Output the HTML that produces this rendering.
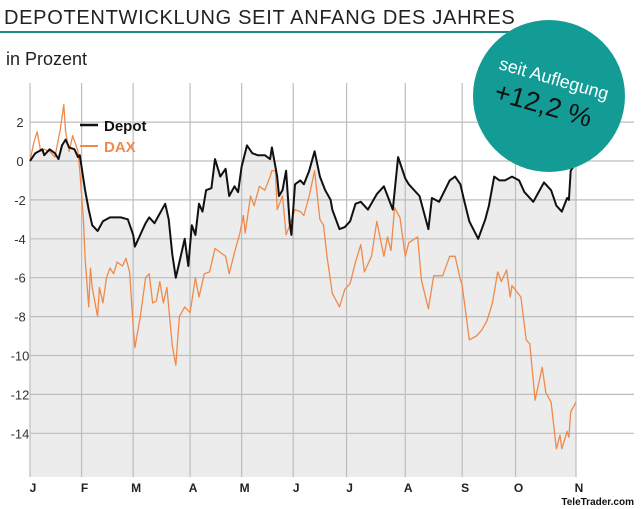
<!DOCTYPE html>
<html><head><meta charset="utf-8">
<style>
body{margin:0;background:#fff;width:644px;height:509px;overflow:hidden;font-family:"Liberation Sans",sans-serif;}
svg{display:block}
</style></head>
<body>
<svg id="chart" width="644" height="509">
  <text x="4" y="24" font-size="20" fill="#222" letter-spacing="0.7">DEPOTENTWICKLUNG SEIT ANFANG DES JAHRES</text>
  <rect x="0" y="31" width="528" height="2" fill="#1a8a85"/>
  <text x="6" y="65" font-size="18" fill="#222">in Prozent</text>
  <g id="plot"></g>
  <g>
    <line x1="80" y1="125" x2="98" y2="125" stroke="#111" stroke-width="2.5"/>
    <text x="104" y="131" font-size="15" font-weight="bold" fill="#111">Depot</text>
    <line x1="80" y1="146" x2="98" y2="146" stroke="#f08a4b" stroke-width="2"/>
    <text x="104" y="152" font-size="15" font-weight="bold" fill="#f08a4b">DAX</text>
  </g>
  <g>
    <circle cx="549" cy="96" r="76" fill="#139b95"/>
    <g transform="rotate(16 549 96)">
      <text x="549" y="84" font-size="18" fill="#fff" text-anchor="middle">seit Auflegung</text>
      <text x="546" y="115" font-size="27" fill="#111" text-anchor="middle">+12,2 %</text>
    </g>
  </g>
  <text x="634" y="505" font-size="10" font-weight="bold" fill="#111" text-anchor="end">TeleTrader.com</text>
</svg>
<script>
const monthLabels=["J","F","M","A","M","J","J","A","S","O","N"];
const monthStartDays=[0,29,58,90,119,148,178,211,243,273,307];
const yTicks=[2,0,-2,-4,-6,-8,-10,-12,-14];
const depotDays=[0,3,7,8,11,14,16,18,20,22,25,27,28,31,33,35,38,41,45,51,55,58,59,63,65,67,70,73,76,78,80,82,84,87,89,91,93,95,97,99,102,104,107,110,112,115,117,119,122,125,128,132,135,136,139,140,142,144,146,147,149,152,154,157,160,163,166,169,170,174,177,180,183,186,190,195,199,204,207,211,213,219,224,226,230,236,239,242,244,247,252,256,258,261,264,267,271,275,278,283,289,293,296,299,302,303,304,307];
const depotValues=[0,.4,.6,.3,.6,.4,.1,.8,1.1,.7,.6,.2,.3,-1.5,-2.5,-3.3,-3.6,-3.1,-2.9,-2.9,-3,-3.8,-4.4,-3.6,-3.2,-2.9,-3.2,-2.7,-2.2,-3,-4.8,-6,-5.2,-4,-5.4,-3.3,-3.8,-2.2,-2.6,-1.5,-1.4,.1,-.8,-.4,-1.8,-1.3,-1.6,-.3,.8,.4,.3,.3,.1,.7,-.8,-1.8,-1.5,-.5,-3.2,-3.8,-1.2,-1.0,-1.2,-.5,.5,-.8,-1.5,-2,-2.5,-3.5,-3.4,-3.1,-2.2,-2.1,-2.5,-1.7,-1.3,-2.5,.2,-.9,-1.2,-1.8,-3.5,-1.9,-2.1,-1,-.8,-1.2,-2,-3.1,-4,-3,-2.3,-.8,-1,-1,-.8,-1,-1.6,-2.1,-1.1,-1.5,-2.3,-2.6,-1.9,-2,-.5,-.1];
const daxDays=[0,2,4,6,8,11,14,17,19,20,22,24,27,28,30,31,33,34,35,38,39,41,43,45,47,49,52,54,56,58,59,62,65,67,69,71,73,75,77,80,82,84,87,90,93,95,98,101,104,107,110,112,115,118,120,121,124,126,129,132,135,136,138,139,142,144,146,149,152,154,157,160,163,165,167,170,174,177,180,183,186,188,192,195,199,201,203,205,208,211,213,218,220,224,227,232,236,239,242,243,247,251,254,257,260,263,265,268,270,271,276,279,281,284,288,290,293,296,298,299,302,303,304,307];
const daxValues=[0,.9,1.5,.5,.6,.5,.2,1.6,2.9,1.5,.5,1.3,.5,-.5,-3,-5,-7.5,-5.5,-6.5,-8,-6.5,-7.3,-6,-5.5,-5.8,-5.2,-5.4,-5,-5.7,-8.5,-9.6,-8,-6,-5.8,-7.3,-7.2,-6.2,-7.3,-6.5,-9.5,-10.5,-8,-7.5,-7.8,-6,-7,-5.8,-5.7,-4.5,-4.7,-4.9,-5.8,-4.7,-3.7,-2.8,-3.7,-1.8,-2.3,-1.3,-1.5,-.8,-.5,-.5,-2.5,-1.8,-3.8,-3.3,-2.5,-2.6,-2.8,-1.8,-.5,-3,-3.3,-4.9,-6.8,-7.5,-6.6,-6.3,-5.2,-4.3,-5.7,-4.9,-3.1,-4.9,-3.9,-4.6,-2.4,-2.9,-4.9,-4.2,-3.9,-6.1,-7.6,-5.9,-5.9,-4.9,-4.9,-6.1,-6.4,-9.2,-9,-8.7,-8.2,-7.3,-5.7,-6.2,-5.6,-7,-6.4,-7,-9.2,-9.4,-12.3,-10.6,-11.9,-12.4,-14.8,-14.1,-14.8,-13.9,-14.2,-12.9,-12.4];

const NS="http://www.w3.org/2000/svg";
const g=document.getElementById('plot');
const X0=30,X1=576,D1=307,TOP=83,BOT=477,GRIDR=634;
function xs(d){return X0+(d/D1)*(X1-X0);}
function ys(v){return 161-v*19.45;}
function mk(tag,attrs){const e=document.createElementNS(NS,tag);for(const k in attrs)e.setAttribute(k,attrs[k]);g.appendChild(e);return e;}

let fp=`M${xs(depotDays[0])},${BOT}`;
depotDays.forEach((d,i)=>{fp+=` L${xs(d).toFixed(1)},${ys(depotValues[i]).toFixed(1)}`;});
fp+=` L${xs(depotDays[depotDays.length-1])},${BOT} Z`;
const area=mk('path',{d:fp,fill:'#ebeceb'});



yTicks.forEach(v=>{
  const l=mk('line',{x1:X0,x2:GRIDR,y1:ys(v),y2:ys(v),stroke:'#bdbdbd','stroke-width':1.2});
  
  
  const t=mk('text',{x:20,y:ys(v)+5,'font-size':13,fill:'#333','text-anchor':'middle'});
  t.textContent=v;
  
  
});
monthStartDays.forEach((d,i)=>{
  const l=mk('line',{x1:xs(d),x2:xs(d),y1:TOP,y2:BOT,stroke:'#bdbdbd','stroke-width':1.2});
  
  
  const t=mk('text',{x:xs(d)+3,y:492,'font-size':12,'font-weight':'bold',fill:'#222','text-anchor':'middle'});
  t.textContent=monthLabels[i];
  
  
});
function line(days,vals,color,w,name){
  const p=days.map((d,i)=>`${xs(d).toFixed(1)},${ys(vals[i]).toFixed(1)}`).join(' ');
  const e=mk('polyline',{points:p,fill:'none',stroke:color,'stroke-width':w,'stroke-linejoin':'round'});
  
  
}
line(daxDays,daxValues,'#f08a4b',1.3,'dax-line');
line(depotDays,depotValues,'#111',2,'depot-line');
</script>
</body></html>
